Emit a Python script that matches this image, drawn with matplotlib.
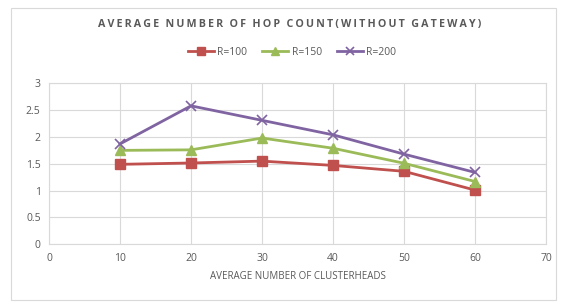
import matplotlib
matplotlib.use('Agg')
import matplotlib.pyplot as plt
from matplotlib.patches import Rectangle

#%% data
clusterheads = [10, 20, 30, 40, 50, 60]
r100 = [1.49, 1.515, 1.55, 1.47, 1.36, 1.01]
r150 = [1.75, 1.76, 1.98, 1.79, 1.51, 1.17]
r200 = [1.87, 2.58, 2.31, 2.04, 1.68, 1.34]
labels = ['R=100', 'R=150', 'R=200']
title = 'AVERAGE NUMBER OF HOP COUNT(WITHOUT GATEWAY)'

#%% style
plt.rcParams['font.family'] = ['Open Sans', 'DejaVu Sans']
txtc = '#595959'
gridc = '#d9d9d9'

fig = plt.figure(figsize=(5.64, 3.07), dpi=100)
# chart border
fig.patches.append(Rectangle((11/564, 7/307), 545/564, 292/307, transform=fig.transFigure,
                             fill=False, edgecolor='#d9d9d9', lw=0.8))

ax = fig.add_axes([49/564, 1-244.3/307, (546-49)/564, (244.3-83.3)/307])

ax.plot(clusterheads, r100, color='#C0504D', lw=2, marker='s', ms=6.5, label=labels[0])
ax.plot(clusterheads, r150, color='#9BBB59', lw=2, marker='^', ms=6.5, label=labels[1])
ax.plot(clusterheads, r200, color='#8064A2', lw=2, marker='x', ms=6.5, mew=1.2, label=labels[2])

ax.set_xlim(0, 70)
ax.set_ylim(0, 3)
ax.set_xticks(range(0, 71, 10))
ax.set_yticks([0, 0.5, 1, 1.5, 2, 2.5, 3])
ax.set_yticklabels(['0', '0.5', '1', '1.5', '2', '2.5', '3'])
ax.grid(True, color=gridc, lw=0.8)
ax.set_axisbelow(True)
for s in ax.spines.values():
    s.set_color(gridc)
    s.set_linewidth(0.8)
ax.tick_params(length=0, colors=txtc, labelsize=7.5, pad=6)
ax.set_xlabel('AVERAGE NUMBER OF CLUSTERHEADS', color=txtc, fontsize=7, labelpad=5)

# letter-spaced title
spaced = '\u2009\u2009\u2009'.join('\u2009'.join(w) for w in title.split(' '))
fig.text(290/564, 1-24/307, spaced, ha='center', va='center', color=txtc,
         fontsize=7.7, fontweight='bold')

fig.legend(*ax.get_legend_handles_labels(), loc='center', bbox_to_anchor=(292/564, 1-52/307),
           ncol=3, frameon=False, fontsize=7.5, labelcolor=txtc, handlelength=2.5,
           columnspacing=1.5, handletextpad=0.3, markerscale=0.8)

fig.savefig('out.png', dpi=100)
